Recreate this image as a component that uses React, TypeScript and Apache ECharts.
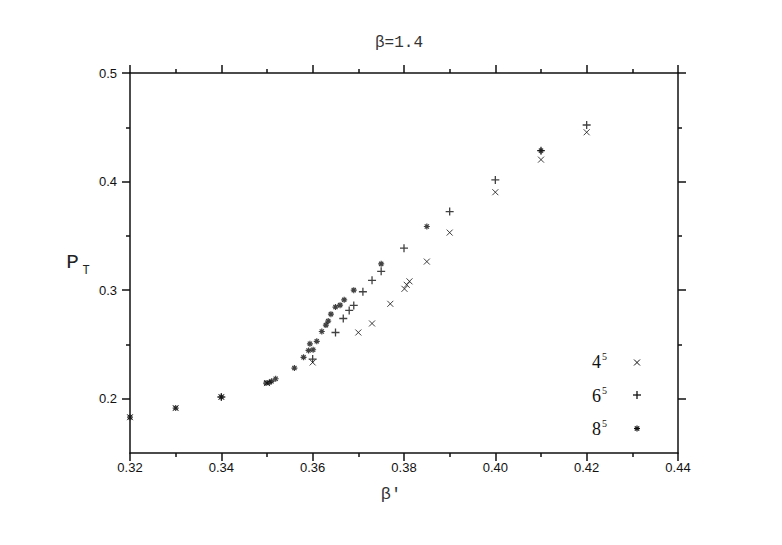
import React, { useEffect, useRef } from "react";
import * as echarts from "echarts";

// Data
const betaPrime4 = [0.32, 0.33, 0.34, 0.35, 0.36, 0.37, 0.373, 0.377, 0.3801, 0.3806, 0.3812, 0.385, 0.39, 0.40, 0.41, 0.42];
const pt4 = [0.183, 0.1914, 0.2016, 0.2144, 0.2334, 0.261, 0.2693, 0.2874, 0.3012, 0.3049, 0.3081, 0.3263, 0.353, 0.3902, 0.4202, 0.4454];

const betaPrime6 = [0.34, 0.36, 0.365, 0.3667, 0.368, 0.369, 0.371, 0.373, 0.375, 0.38, 0.39, 0.40, 0.41, 0.42];
const pt6 = [0.2016, 0.2365, 0.261, 0.2739, 0.2813, 0.2859, 0.2985, 0.309, 0.3173, 0.3387, 0.3724, 0.4015, 0.4285, 0.4521];

const betaPrime8 = [0.32, 0.33, 0.34, 0.3498, 0.3505, 0.351, 0.3519, 0.356, 0.358, 0.3591, 0.3594, 0.3601, 0.3609, 0.362, 0.3629, 0.3634, 0.364, 0.365, 0.366, 0.3669, 0.369, 0.375, 0.385, 0.41];
const pt8 = [0.183, 0.1914, 0.2016, 0.2144, 0.215, 0.216, 0.2184, 0.2282, 0.2381, 0.2445, 0.2506, 0.2451, 0.2529, 0.2619, 0.2678, 0.2715, 0.2779, 0.2844, 0.2862, 0.2911, 0.3, 0.3242, 0.3586, 0.4285];

const seriesNames = ["4^5", "6^5", "8^5"];
const legendBases = ["4", "6", "8"];
const legendExp = "5";

const xMin = 0.32;
const xMax = 0.44;
const xInterval = 0.02;
const yMin = 0.15;
const yMax = 0.5;
const yMajorTicks = [0.2, 0.3, 0.4, 0.5];
const yMinorTicks = [0.25, 0.35, 0.45];

const titleText = "β=1.4";
const xName = "β'";

const SYM_X = "path://M0,0L10,10M10,0L0,10";
const SYM_PLUS = "path://M5,0L5,10M0,5L10,5";
const SYM_STAR = "path://M5,0L5,10M0,5L10,5M1.5,1.5L8.5,8.5M8.5,1.5L1.5,8.5";

const zip = (a: number[], b: number[]) => a.map((v, i) => [v, b[i]]);

export default function App() {
  const ref = useRef<HTMLDivElement>(null);
  useEffect(() => {
    document.body.style.margin = "0";
    if (!ref.current) return;
    const chart = echarts.init(ref.current, undefined, { renderer: "svg" });
    const axisColor = "#111";
    const lineStyle = { color: axisColor, width: 1.5 };
    const yBase = {
      type: "value" as const,
      min: yMin,
      max: yMax,
      splitLine: { show: false },
      gridIndex: 0,
    };
    const xBase = {
      type: "value" as const,
      min: xMin,
      max: xMax,
      interval: xInterval,
      splitLine: { show: false },
      gridIndex: 0,
    };
    const legendY = [362, 395.5, 429];
    const symX = 637;
    const graphics: any[] = [
      {
        type: "text",
        x: 399,
        y: 43,
        style: {
          text: titleText,
          fontFamily: "Liberation Mono",
          fontSize: 16,
          fill: "#333",
          textAlign: "center",
          textVerticalAlign: "middle",
        },
      },
      {
        type: "text",
        x: 391,
        y: 494,
        style: {
          text: xName,
          fontFamily: "Liberation Mono",
          fontSize: 17,
          fill: "#333",
          textAlign: "center",
          textVerticalAlign: "middle",
        },
      },
      {
        type: "text",
        x: 72.5,
        y: 262,
        style: {
          text: "P",
          fontFamily: "Liberation Mono",
          fontSize: 21,
          fill: "#222",
          textAlign: "center",
          textVerticalAlign: "middle",
        },
      },
      {
        type: "text",
        x: 86,
        y: 271,
        style: {
          text: "T",
          fontFamily: "Liberation Mono",
          fontSize: 12,
          fill: "#222",
          textAlign: "center",
          textVerticalAlign: "middle",
        },
      },
    ];
    legendBases.forEach((b, i) => {
      graphics.push({
        type: "text",
        x: 596.5,
        y: legendY[i],
        style: {
          text: b,
          fontFamily: "Liberation Serif",
          fontSize: 18,
          fill: "#111",
          textAlign: "center",
          textVerticalAlign: "middle",
        },
      });
      graphics.push({
        type: "text",
        x: 604.5,
        y: legendY[i] - 5.5,
        style: {
          text: legendExp,
          fontFamily: "Liberation Serif",
          fontSize: 10,
          fill: "#111",
          textAlign: "center",
          textVerticalAlign: "middle",
        },
      });
    });
    const ls = { stroke: "#111", lineWidth: 1 };
    // legend markers
    const cy0 = legendY[0] + 0.5;
    graphics.push(
      { type: "line", shape: { x1: symX - 3, y1: cy0 - 3, x2: symX + 3, y2: cy0 + 3 }, style: ls },
      { type: "line", shape: { x1: symX + 3, y1: cy0 - 3, x2: symX - 3, y2: cy0 + 3 }, style: ls }
    );
    const cy1 = 395;
    graphics.push(
      { type: "line", shape: { x1: symX - 4, y1: cy1, x2: symX + 4, y2: cy1 }, style: { ...ls, lineWidth: 1.3 } },
      { type: "line", shape: { x1: symX, y1: cy1 - 4, x2: symX, y2: cy1 + 4 }, style: { ...ls, lineWidth: 1.3 } }
    );
    const cy2 = 428.5;
    graphics.push(
      { type: "line", shape: { x1: symX - 3, y1: cy2, x2: symX + 3, y2: cy2 }, style: { ...ls, lineWidth: 1.2 } },
      { type: "line", shape: { x1: symX, y1: cy2 - 3, x2: symX, y2: cy2 + 3 }, style: { ...ls, lineWidth: 1.2 } },
      { type: "line", shape: { x1: symX - 2.2, y1: cy2 - 2.2, x2: symX + 2.2, y2: cy2 + 2.2 }, style: { ...ls, lineWidth: 1.2 } },
      { type: "line", shape: { x1: symX + 2.2, y1: cy2 - 2.2, x2: symX - 2.2, y2: cy2 + 2.2 }, style: { ...ls, lineWidth: 1.2 } }
    );

    chart.setOption({
      animation: false,
      backgroundColor: "#fff",
      grid: { left: 130, top: 73, width: 548, height: 380, containLabel: false },
      xAxis: [
        {
          ...xBase,
          position: "bottom",
          axisLine: { lineStyle },
          axisTick: { inside: false, length: 8, lineStyle },
          minorTick: { show: true, splitNumber: 2, length: 4, lineStyle },
          axisLabel: {
            color: "#111",
            fontFamily: "Liberation Sans",
            fontSize: 13,
            margin: 8,
            formatter: (v: number) => v.toFixed(2),
          },
        },
        {
          ...xBase,
          position: "top",
          axisLine: { lineStyle },
          axisTick: { inside: false, length: 8, lineStyle },
          minorTick: { show: true, splitNumber: 2, length: 4, lineStyle },
          axisLabel: { show: false },
        },
      ],
      yAxis: [
        {
          ...yBase,
          position: "left",
          axisLine: { lineStyle },
          axisTick: { inside: false, length: 8, lineStyle, customValues: yMajorTicks },
          axisLabel: {
            customValues: yMajorTicks,
            color: "#111",
            fontFamily: "Liberation Sans",
            fontSize: 13,
            margin: 13,
            formatter: (v: number) => v.toFixed(1),
          },
        },
        {
          ...yBase,
          position: "left",
          axisLine: { show: false },
          axisTick: { inside: false, length: 4, lineStyle, customValues: yMinorTicks },
          axisLabel: { show: false },
        },
        {
          ...yBase,
          position: "right",
          axisLine: { lineStyle },
          axisTick: { inside: false, length: 8, lineStyle, customValues: yMajorTicks },
          axisLabel: { show: false },
        },
        {
          ...yBase,
          position: "right",
          axisLine: { show: false },
          axisTick: { inside: false, length: 4, lineStyle, customValues: yMinorTicks },
          axisLabel: { show: false },
        },
      ],
      series: [
        {
          name: seriesNames[0],
          type: "scatter",
          xAxisIndex: 0,
          yAxisIndex: 0,
          symbol: SYM_X,
          symbolSize: 6,
          itemStyle: { color: "#111", borderColor: "#111", borderWidth: 1 },
          data: zip(betaPrime4, pt4),
        },
        {
          name: seriesNames[1],
          type: "scatter",
          xAxisIndex: 0,
          yAxisIndex: 0,
          symbol: SYM_PLUS,
          symbolSize: 8,
          itemStyle: { color: "#111", borderColor: "#111", borderWidth: 1.3 },
          data: zip(betaPrime6, pt6),
        },
        {
          name: seriesNames[2],
          type: "scatter",
          xAxisIndex: 0,
          yAxisIndex: 0,
          symbol: SYM_STAR,
          symbolSize: 6,
          itemStyle: { color: "#111", borderColor: "#111", borderWidth: 1.2 },
          data: zip(betaPrime8, pt8),
        },
      ],
      graphic: graphics,
    });
    return () => chart.dispose();
  }, []);
  return <div ref={ref} style={{ width: 782, height: 545 }} />;
}
